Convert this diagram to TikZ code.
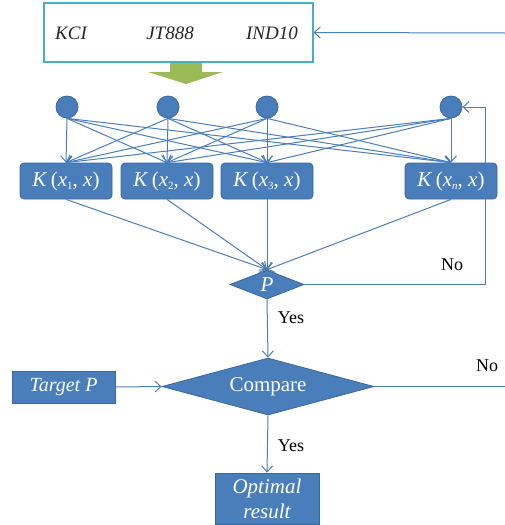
\documentclass[tikz,border=0pt]{standalone}
\usepackage{fontspec}
\setmainfont{Liberation Serif}
\usetikzlibrary{arrows.meta,shapes.geometric}
\definecolor{bfill}{HTML}{4A7EBB}
\definecolor{bdraw}{HTML}{3A679E}
\definecolor{lcol}{HTML}{4A7EBB}
\definecolor{tbox}{HTML}{4BACC6}
\definecolor{garrow}{HTML}{9BBB59}
\tikzset{
  x=1pt,y=-1pt,
  conn/.style={draw=lcol,line width=1pt,-{Straight Barb[length=6pt,width=11pt]}},
  plain/.style={draw=lcol,line width=1pt},
  neuron/.style={circle,fill=bfill,draw=bdraw,line width=0.8pt,minimum size=22pt,inner sep=0pt},
  kbox/.style={rectangle,rounded corners=4pt,fill=bfill,draw=bdraw,line width=0.8pt,minimum width=92pt,minimum height=36pt,inner sep=0pt,text=white,font=\fontsize{21}{23}\selectfont},
  sbox/.style={rectangle,fill=bfill,draw=bdraw,line width=0.8pt,inner sep=0pt,text=white,font=\fontsize{20}{22}\selectfont\itshape},
  dia/.style={diamond,fill=bfill,draw=bdraw,line width=0.8pt,inner sep=0pt,text=white,font=\fontsize{21}{23}\selectfont},
  lbl/.style={font=\fontsize{18}{20}\selectfont,text=black,inner sep=0pt},
  intxt/.style={font=\fontsize{19}{21}\selectfont\itshape,text=black!85,inner sep=0pt}
}
\newcommand{\Kx}[1]{\textit{K}\,(\textit{x}\raisebox{-0.35ex}{\fontsize{11}{11}\selectfont #1}, \textit{x})}
\begin{document}
\begin{tikzpicture}
\useasboundingbox (0,0) rectangle (505,525);
% top input box
\node[draw=tbox,line width=1.1pt,fill=white,minimum width=269pt,minimum height=59pt,inner sep=0pt] (inp) at (178.5,32.5) {};
\node[intxt] (t1) at (71,33) {KCI};
\node[intxt] (t2) at (170,33) {JT888};
\node[intxt] (t3) at (272,33) {IND10};
\coordinate (inR) at (505,33);
\draw[conn] (inR) -- (inp.east);
% green arrow
\fill[garrow] (170,63) -- (202,63) -- (202,72) -- (223,72) -- (186,84) -- (148,72) -- (170,72) -- cycle;
% neurons
\node[neuron] (c1) at (67,107) {};
\node[neuron] (c2) at (168,107) {};
\node[neuron] (c3) at (267,107) {};
\node[neuron] (c4) at (451,107) {};
% kernel boxes
\node[kbox] (k1) at (66,181) {\Kx{1}};
\node[kbox] (k2) at (167,181) {\Kx{2}};
\node[kbox] (k3) at (267,181) {\Kx{3}};
\node[kbox] (k4) at (451,181) {\Kx{\textit{n}}};
\foreach \i in {1,2,3,4}{
  \foreach \j in {1,2,3,4}{
    \draw[conn] (c\i.south) -- (k\j.north);
  }
}
% P diamond
\node[dia,aspect=2.55,minimum width=74pt,minimum height=29pt] (p) at (267,284.5) {\textit{P}};
\foreach \j in {1,2,3,4}{
  \draw[conn] (k\j.south) -- (p.north);
}
\coordinate (loop) at (485,284.5);
\draw[conn] (p.east) -- (loop) |- (c4.east);
\node[lbl] (no1) at (452,265) {No};
% compare
\node[dia,aspect=3.7,minimum width=212pt,minimum height=57pt] (cmp) at (268,386.5) {Compare};
\draw[conn] (p.south) -- (cmp.north);
\node[lbl] (yes1) at (291,318) {Yes};
\coordinate (cmpR) at (505,386.5);
\draw[plain] (cmp.east) -- (cmpR);
\node[lbl] (no2) at (487,366) {No};
% target
\node[sbox,minimum width=103pt,minimum height=32pt] (tgt) at (63.5,387) {Target \textit{P}};
\draw[conn] (tgt.east) -- (cmp.west);
% optimal
\node[sbox,minimum width=104pt,minimum height=51pt,align=center,font=\fontsize{21}{25}\selectfont\itshape] (opt) at (267,498.5) {Optimal\\result};
\draw[conn] (cmp.south) -- (opt.north);
\node[lbl] (yes2) at (291,446) {Yes};
\end{tikzpicture}
\end{document}
